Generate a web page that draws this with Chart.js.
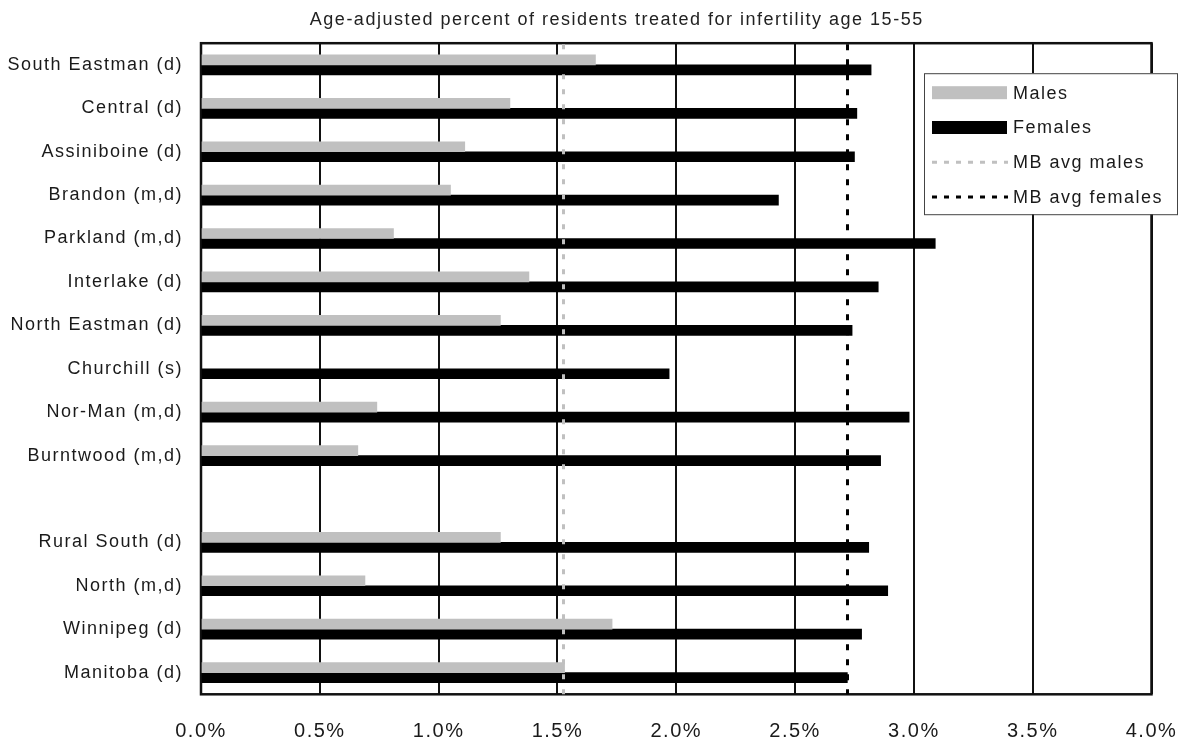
<!DOCTYPE html>
<html>
<head>
<meta charset="utf-8">
<script src="https://cdn.jsdelivr.net/npm/chart.js@4/dist/chart.umd.min.js"></script>
<style>
  html, body { margin: 0; padding: 0; background: #fff; }
  #wrap { width: 1188px; height: 745px; position: relative; }
</style>
</head>
<body>
<div id="wrap"><canvas id="chart"></canvas></div>
<script>
// regions, top to bottom ('' = empty spacer row)
const regions = ['South Eastman (d)', 'Central (d)', 'Assiniboine (d)', 'Brandon (m,d)', 'Parkland (m,d)',
  'Interlake (d)', 'North Eastman (d)', 'Churchill (s)', 'Nor-Man (m,d)', 'Burntwood (m,d)', '',
  'Rural South (d)', 'North (m,d)', 'Winnipeg (d)', 'Manitoba (d)'];
const males   = [1.66, 1.30, 1.11, 1.05, 0.81, 1.38, 1.26, null, 0.74, 0.66, null, 1.26, 0.69, 1.73, 1.53];
const females = [2.82, 2.76, 2.75, 2.43, 3.09, 2.85, 2.74, 1.97, 2.98, 2.86, null, 2.81, 2.89, 2.78, 2.72];
const avgLabels = ['MB avg males', 'MB avg females'];
const avgValues = [1.524, 2.72];
const xTicks = [0, 0.5, 1, 1.5, 2, 2.5, 3, 3.5, 4];

const FONT = "'Liberation Sans', Arial, sans-serif";
const TXT = '#1a1a1a';
const avgStyles = [
  { color: '#c0c0c0', dash: [5, 10] },
  { color: '#000000', dash: [6, 9] }
];

// spaced-out lettering like the original
const spacing = {
  id: 'spacing',
  beforeDraw(chart) { chart.ctx.letterSpacing = '1.5px'; }
};

// the original title sits right of the canvas centre
const titleShift = {
  id: 'titleShift',
  afterLayout(chart) {
    chart.titleBlock.left += 41;
    chart.titleBlock.right += 41;
  }
};

// plot frame
const frame = {
  id: 'frame',
  beforeDatasetsDraw(chart) {
    const a = chart.chartArea, ctx = chart.ctx;
    ctx.save();
    ctx.strokeStyle = '#111';
    ctx.lineWidth = 2.5;
    ctx.strokeRect(a.left, a.top, a.right - a.left, a.bottom - a.top);
    ctx.restore();
  }
};

// Manitoba average reference lines, placed with the x scale
const avgLines = {
  id: 'avgLines',
  afterDatasetsDraw(chart) {
    const a = chart.chartArea, ctx = chart.ctx, xs = chart.scales.x;
    ctx.save();
    avgValues.forEach(function (v, i) {
      const px = Math.round(xs.getPixelForValue(v)) + 0.5;
      ctx.strokeStyle = avgStyles[i].color;
      ctx.lineWidth = 3;
      ctx.setLineDash(avgStyles[i].dash);
      ctx.beginPath();
      ctx.moveTo(px, a.top + 1);
      ctx.lineTo(px, a.bottom);
      ctx.stroke();
    });
    ctx.restore();
  }
};

// legend box sitting inside the plot, top right
const boxLegend = {
  id: 'boxLegend',
  afterDraw(chart) {
    const a = chart.chartArea, ctx = chart.ctx;
    const x = a.right - 227.5, y = a.top + 30, w = 253, h = 141;
    const items = chart.data.datasets.map(ds => ({ label: ds.label, fill: ds.backgroundColor }))
      .concat(avgLabels.map((l, i) => ({ label: l, line: avgStyles[i].color })));
    ctx.save();
    ctx.fillStyle = '#fff';
    ctx.fillRect(x, y, w, h);
    ctx.strokeStyle = '#444';
    ctx.lineWidth = 1;
    ctx.strokeRect(x + 0.5, y + 0.5, w, h);
    ctx.font = '18px ' + FONT;
    ctx.textBaseline = 'middle';
    ctx.textAlign = 'left';
    items.forEach(function (it, i) {
      const cy = y + 19.5 + i * 34.8;
      if (it.line) {
        ctx.strokeStyle = it.line;
        ctx.lineWidth = 3;
        ctx.setLineDash([5, 7]);
        ctx.beginPath();
        ctx.moveTo(x + 8, cy);
        ctx.lineTo(x + 84, cy);
        ctx.stroke();
        ctx.setLineDash([]);
      } else {
        ctx.fillStyle = it.fill;
        ctx.fillRect(x + 8, cy - 6.5, 75, 13);
      }
      ctx.fillStyle = TXT;
      ctx.fillText(it.label, x + 89, cy + 1);
    });
    ctx.restore();
  }
};

new Chart(document.getElementById('chart'), {
  type: 'bar',
  data: {
    labels: regions,
    datasets: [
      { label: 'Males', data: males, backgroundColor: '#c0c0c0', barThickness: 10 },
      { label: 'Females', data: females, backgroundColor: '#000000', barThickness: 10 }
    ]
  },
  options: {
    indexAxis: 'y',
    responsive: true,
    maintainAspectRatio: false,
    animation: false,
    layout: { padding: { left: 0, right: 36.5, top: 0, bottom: 0 } },
    plugins: {
      legend: { display: false },
      tooltip: { enabled: false },
      title: {
        display: true,
        text: 'Age-adjusted percent of residents treated for infertility age 15-55',
        color: '#222',
        font: { family: FONT, size: 18, weight: 'normal' },
        padding: { top: 9, bottom: 12.6 }
      }
    },
    scales: {
      x: {
        type: 'linear',
        min: 0,
        max: 4,
        afterBuildTicks(scale) { scale.ticks = xTicks.map(v => ({ value: v })); },
        afterFit(scale) {
          scale.height = 50.7;
          scale.paddingLeft = 0;
          scale.paddingRight = 0;
        },
        grid: { color: '#111', lineWidth: 2, drawTicks: false },
        border: { display: false },
        ticks: {
          color: TXT,
          padding: 25,
          maxRotation: 0,
          font: { family: FONT, size: 20 },
          callback: v => v.toFixed(1) + '%'
        }
      },
      y: {
        type: 'category',
        afterFit(scale) { scale.width = 201; },
        grid: { display: false, drawTicks: false },
        border: { display: false },
        ticks: {
          color: TXT,
          padding: 18,
          autoSkip: false,
          font: { family: FONT, size: 18 }
        }
      }
    }
  },
  plugins: [spacing, titleShift, frame, avgLines, boxLegend]
});
</script>
</body>
</html>
